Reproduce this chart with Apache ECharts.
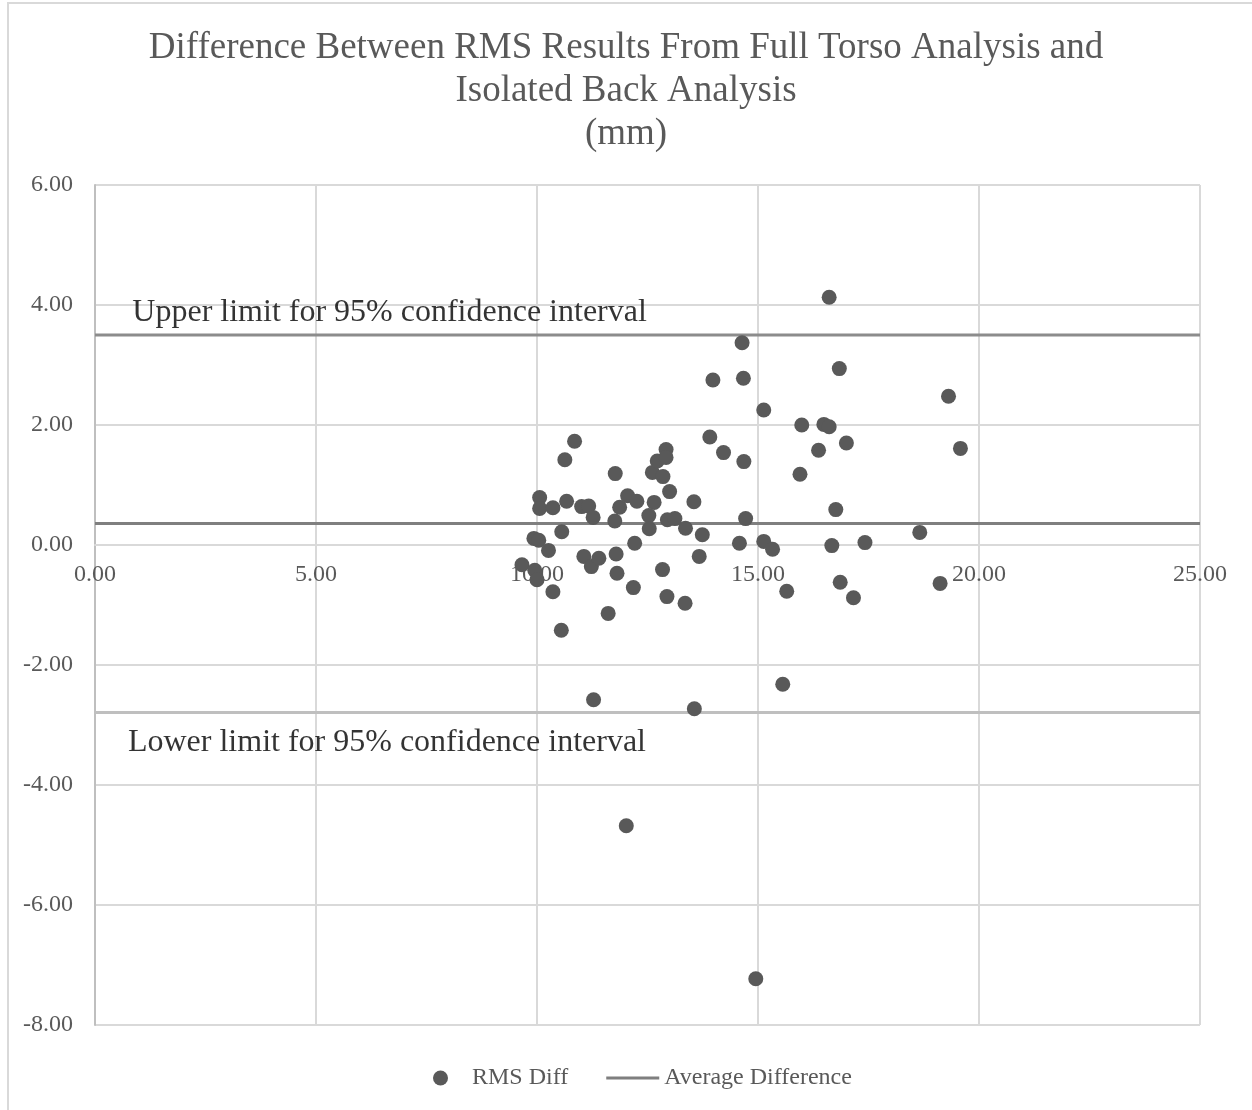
<!DOCTYPE html>
<html>
<head>
<meta charset="utf-8">
<script src="https://cdn.jsdelivr.net/npm/echarts@6/dist/echarts.min.js"></script>
<style>html,body{margin:0;padding:0;background:#fff}#c{width:1252px;height:1110px}</style>
</head>
<body>
<div id="c"></div>
<script>
// RMS Diff points (x = mean RMS, y = difference)
const rmsX = [10.85,10.63,10.06,10.06,10.36,10.67,11.01,11.17,11.27,11.77,11.87,12.05,12.26,11.76,10.56,9.93,10.04,10.26,9.66,9.95,10.00,10.36,10.55,11.06,11.23,11.40,11.79,11.81,12.21,12.18,11.61,12.61,12.72,12.92,12.92,12.85,13.00,12.65,12.53,12.54,12.95,13.12,13.36,13.55,13.74,13.67,12.84,12.94,13.35,13.91,14.22,14.68,14.72,14.58,16.61,14.64,13.98,14.67,16.84,19.31,15.13,15.99,16.49,16.61,17.00,16.37,19.58,15.95,16.76,15.13,15.33,16.67,17.42,18.66,16.86,17.16,15.65,19.12,11.28,13.56,15.56,12.02,14.95];
const rmsY = [1.73,1.42,0.79,0.61,0.62,0.73,0.64,0.65,0.46,1.19,0.63,0.82,0.73,0.40,0.22,0.11,0.08,-0.09,-0.33,-0.42,-0.58,-0.78,-1.42,-0.19,-0.36,-0.22,-0.15,-0.47,0.03,-0.71,-1.14,1.21,1.40,1.59,1.46,1.14,0.89,0.71,0.49,0.27,0.42,0.44,0.28,0.72,0.17,-0.19,-0.41,-0.86,-0.97,1.80,1.54,1.39,0.44,0.03,4.13,3.37,2.75,2.78,2.94,2.48,2.25,2.00,2.01,1.97,1.70,1.58,1.61,1.18,0.59,0.06,-0.07,-0.01,0.04,0.21,-0.62,-0.88,-0.77,-0.64,-2.58,-2.73,-2.32,-4.68,-7.23];
const avgDiff = 0.36;
const upperLimit = 3.5;
const lowerLimit = -2.79;
const xTicks = [0, 5, 10, 15, 20, 25];
const yTicks = [-8, -6, -4, -2, 0, 2, 4, 6];
const titleLines = ["Difference Between RMS Results From Full Torso Analysis and", "Isolated Back Analysis", "(mm)"];
const upperLabel = "Upper limit for 95% confidence interval";
const lowerLabel = "Lower limit for 95% confidence interval";

const serif = '"Liberation Serif","Times New Roman",serif';
const chart = echarts.init(document.getElementById('c'));
const pts = rmsX.map((x, i) => [x, rmsY[i]]);
const xMin = xTicks[0], xMax = xTicks[xTicks.length - 1];
const yMin = yTicks[0], yMax = yTicks[yTicks.length - 1];
const gridTop = 185, gridBottom = 85, chartH = 1110;
const plotH = chartH - gridTop - gridBottom;
// move the x axis (line + labels) up to y = 0, as in the reference
const xAxisOffset = -plotH * (0 - yMin) / (yMax - yMin);

chart.setOption({
  animation: false,
  backgroundColor: '#fff',
  title: {
    text: titleLines.join('\n'),
    left: 'center', top: 22,
    textStyle: { fontFamily: serif, fontWeight: 'normal', fontSize: 37, color: '#595959', lineHeight: 43 }
  },
  graphic: [
    { type: 'rect', shape: { x: 8, y: 3, width: 1260, height: 1120 }, style: { fill: 'none', stroke: '#d9d9d9', lineWidth: 2 }, silent: true }
  ],
  legend: {
    bottom: 15, left: 428, itemGap: 38, itemWidth: 53, itemHeight: 15,
    textStyle: { fontFamily: serif, fontSize: 24, color: '#595959' },
    data: [
      { name: 'RMS Diff', icon: 'circle' },
      { name: 'Average Difference', icon: 'path://M0,0L53,0L53,3L0,3Z', itemStyle: { color: '#7f7f7f' } }
    ]
  },
  grid: { left: 95, right: 52, top: gridTop, bottom: gridBottom },
  xAxis: {
    type: 'value', min: xMin, max: xMax, interval: 5, offset: xAxisOffset,
    axisLine: { onZero: false, lineStyle: { color: '#d9d9d9', width: 2 } },
    axisTick: { show: false },
    splitLine: { show: true, lineStyle: { color: '#d9d9d9', width: 2 } },
    axisLabel: { margin: 18, fontFamily: serif, fontSize: 24, color: '#595959', formatter: v => v.toFixed(2) }
  },
  yAxis: {
    type: 'value', min: yMin, max: yMax, interval: 2,
    axisLine: { show: true, onZero: false, lineStyle: { color: '#bfbfbf', width: 2 } },
    axisTick: { show: false },
    splitLine: { show: true, lineStyle: { color: '#d9d9d9', width: 2 } },
    axisLabel: { margin: 22, fontFamily: serif, fontSize: 24, color: '#595959', formatter: v => v.toFixed(2) }
  },
  series: [
    {
      name: 'Upper', type: 'line', data: [[xMin, upperLimit], [xMax, upperLimit]],
      symbol: 'none', lineStyle: { color: '#8c8c8c', width: 3 }, z: 3
    },
    {
      name: 'Lower', type: 'line', data: [[xMin, lowerLimit], [xMax, lowerLimit]],
      symbol: 'none', lineStyle: { color: '#bfbfbf', width: 3 }, z: 3
    },
    {
      name: 'Average Difference', type: 'line', data: [[xMin, avgDiff], [xMax, avgDiff]],
      symbol: 'none', itemStyle: { color: '#7f7f7f' }, lineStyle: { color: '#7f7f7f', width: 3 }, z: 3
    },
    {
      name: 'RMS Diff', type: 'scatter', data: pts, symbolSize: 15,
      itemStyle: { color: '#595959', opacity: 1 }, z: 5
    },
    {
      name: 'labels', type: 'scatter', symbolSize: 0, silent: true, z: 6,
      data: [
        { value: [0.8, upperLimit], label: { show: true, formatter: upperLabel, position: 'right', offset: [-3, -22] } },
        { value: [0.7, lowerLimit], label: { show: true, formatter: lowerLabel, position: 'right', offset: [-3, 30] } }
      ],
      label: { fontFamily: serif, fontSize: 32, color: '#000' }
    }
  ]
});
</script>
</body>
</html>
